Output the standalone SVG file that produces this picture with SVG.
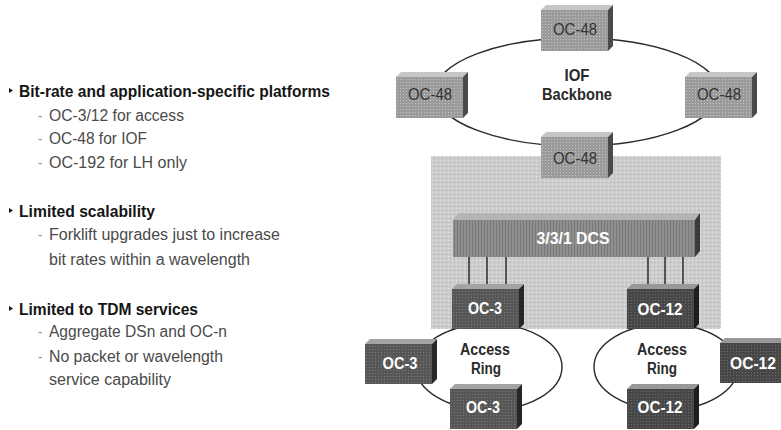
<svg xmlns="http://www.w3.org/2000/svg" xmlns:xlink="http://www.w3.org/1999/xlink" width="781" height="430" viewBox="0 0 781 430">
<style>
  .h { font-family: "Liberation Sans", Arial, sans-serif; font-weight: bold; font-size: 17px; fill: #151515; }
  .s { font-family: "Liberation Sans", Arial, sans-serif; font-size: 16px; fill: #4a4a4a; }
  .dash { font-family: "Liberation Sans", Arial, sans-serif; font-size: 13px; fill: #888; }
  .bul { fill: #151515; }
  .lg { font-family: "Liberation Sans", Arial, sans-serif; font-size: 17px; fill: #333; text-anchor: middle; }
  .lw { font-family: "Liberation Sans", Arial, sans-serif; font-weight: bold; font-size: 17px; fill: #fff; text-anchor: middle; }
  .lb { font-family: "Liberation Sans", Arial, sans-serif; font-weight: bold; font-size: 17px; fill: #2a2a2a; text-anchor: middle; }
  .ar { font-family: "Liberation Sans", Arial, sans-serif; font-weight: bold; font-size: 16px; fill: #2a2a2a; text-anchor: middle; }
  .ring { fill: none; stroke: #2a2a2a; stroke-width: 1.4; }
  .tie { stroke: #222; stroke-width: 1.4; }
</style>
<defs>
  <pattern id="dotsL" width="3" height="3" patternUnits="userSpaceOnUse">
    <rect width="3" height="3" fill="#9b9b9b"/>
    <rect x="1" y="1" width="1" height="1" fill="#c4c4c4"/>
  </pattern>
  <pattern id="dotsD" width="3" height="3" patternUnits="userSpaceOnUse">
    <rect width="3" height="3" fill="#565656"/>
    <rect x="1" y="1" width="1" height="1" fill="#7a7a7a"/>
  </pattern>
  <pattern id="dotsX" width="3" height="3" patternUnits="userSpaceOnUse">
    <rect width="3" height="3" fill="#474747"/>
    <rect x="1" y="1" width="1" height="1" fill="#6c6c6c"/>
  </pattern>
  <pattern id="shade" width="4" height="4" patternUnits="userSpaceOnUse">
    <rect width="4" height="4" fill="#cdcdcd"/>
    <rect x="0" y="0" width="1" height="1" fill="#e6e6e6"/>
    <rect x="2" y="2" width="1" height="1" fill="#b0b0b0"/>
  </pattern>
  <pattern id="stripe" width="3" height="4" patternUnits="userSpaceOnUse">
    <rect width="3" height="4" fill="#8e8e8e"/>
    <rect x="1" width="1" height="4" fill="#7a7a7a"/>
  </pattern>
  <g id="boxL">
    <polygon points="0,5 5,0 72,0 67,5" fill="#c6c6c6"/>
    <rect x="0" y="5" width="67" height="41" fill="url(#dotsL)"/>
    <polygon points="67,5 72,0 72,41 67,46" fill="#4a4a4a"/>
  </g>
  <g id="boxD">
    <polygon points="0,5 5,0 72,0 67,5" fill="#a4a4a4"/>
    <rect x="0" y="5" width="67" height="40" fill="url(#dotsD)"/>
    <polygon points="67,5 72,0 72,40 67,45" fill="#262626"/>
  </g>
  <g id="boxX">
    <polygon points="0,5 5,0 72,0 67,5" fill="#989898"/>
    <rect x="0" y="5" width="67" height="40" fill="url(#dotsX)"/>
    <polygon points="67,5 72,0 72,40 67,45" fill="#1e1e1e"/>
  </g>
</defs>
<rect width="781" height="430" fill="#fff"/>

<g id="bullets">
  <polygon class="bul" points="9,88 13,90.5 9,93"/>
  <text class="h" x="19" y="97" textLength="311" lengthAdjust="spacingAndGlyphs">Bit-rate and application-specific platforms</text>
  <text class="dash" x="38" y="120">-</text>
  <text class="s" x="49" y="121" textLength="135" lengthAdjust="spacingAndGlyphs">OC-3/12 for access</text>
  <text class="dash" x="38" y="143">-</text>
  <text class="s" x="49" y="144" textLength="98" lengthAdjust="spacingAndGlyphs">OC-48 for IOF</text>
  <text class="dash" x="38" y="167">-</text>
  <text class="s" x="49" y="168" textLength="138" lengthAdjust="spacingAndGlyphs">OC-192 for LH only</text>

  <polygon class="bul" points="9,208 13,210.5 9,213"/>
  <text class="h" x="19" y="217" textLength="136" lengthAdjust="spacingAndGlyphs">Limited scalability</text>
  <text class="dash" x="38" y="239">-</text>
  <text class="s" x="49" y="240" textLength="231" lengthAdjust="spacingAndGlyphs">Forklift upgrades just to increase</text>
  <text class="s" x="49" y="265" textLength="201" lengthAdjust="spacingAndGlyphs">bit rates within a wavelength</text>

  <polygon class="bul" points="9,306 13,308.5 9,311"/>
  <text class="h" x="19" y="315" textLength="179" lengthAdjust="spacingAndGlyphs">Limited to TDM services</text>
  <text class="dash" x="38" y="336">-</text>
  <text class="s" x="49" y="337" textLength="178" lengthAdjust="spacingAndGlyphs">Aggregate DSn and OC-n</text>
  <text class="dash" x="38" y="361">-</text>
  <text class="s" x="49" y="362" textLength="174" lengthAdjust="spacingAndGlyphs">No packet or wavelength</text>
  <text class="s" x="49" y="385" textLength="122" lengthAdjust="spacingAndGlyphs">service capability</text>
</g>

<g id="office">
  <rect x="431" y="156" width="290" height="173" fill="url(#shade)"/>
</g>

<g id="connectors">
  <ellipse class="ring" cx="577" cy="92" rx="142" ry="54"/>
  <ellipse class="ring" cx="489" cy="367" rx="73" ry="43"/>
  <ellipse class="ring" cx="666" cy="367" rx="72" ry="43"/>
  <line class="tie" x1="469" y1="257" x2="469" y2="286"/>
  <line class="tie" x1="487" y1="257" x2="487" y2="286"/>
  <line class="tie" x1="506" y1="257" x2="506" y2="286"/>
  <line class="tie" x1="648" y1="257" x2="648" y2="286"/>
  <line class="tie" x1="665" y1="257" x2="665" y2="286"/>
  <line class="tie" x1="683" y1="257" x2="683" y2="286"/>
</g>

<g id="iof-label">
  <text class="lb" x="577" y="81" textLength="25" lengthAdjust="spacingAndGlyphs">IOF</text>
  <text class="lb" x="577" y="100" textLength="70" lengthAdjust="spacingAndGlyphs">Backbone</text>
</g>

<g id="oc48-top" transform="translate(541,5)">
  <use xlink:href="#boxL"/>
  <text class="lg" x="34" y="30" textLength="44" lengthAdjust="spacingAndGlyphs">OC-48</text>
</g>
<g id="oc48-left" transform="translate(396,72)">
  <use xlink:href="#boxL"/>
  <text class="lg" x="34" y="28" textLength="44" lengthAdjust="spacingAndGlyphs">OC-48</text>
</g>
<g id="oc48-right" transform="translate(685,72)">
  <use xlink:href="#boxL"/>
  <text class="lg" x="34" y="28" textLength="44" lengthAdjust="spacingAndGlyphs">OC-48</text>
</g>
<g id="oc48-bottom" transform="translate(541,132)">
  <use xlink:href="#boxL"/>
  <text class="lg" x="34" y="32" textLength="44" lengthAdjust="spacingAndGlyphs">OC-48</text>
</g>

<g id="dcs">
  <polygon points="453,220 458,213 700,213 695,220" fill="#b4b4b4"/>
  <rect x="453" y="220" width="242" height="37" fill="url(#stripe)"/>
  <polygon points="695,220 700,213 700,251 695,257" fill="#3a3a3a"/>
  <text class="lw" x="573" y="244" textLength="73" lengthAdjust="spacingAndGlyphs">3/3/1 DCS</text>
</g>

<g id="oc3-top" transform="translate(452,284)">
  <use xlink:href="#boxD"/>
  <text class="lw" x="33" y="30" textLength="34" lengthAdjust="spacingAndGlyphs">OC-3</text>
</g>
<g id="oc12-top" transform="translate(627,284)">
  <use xlink:href="#boxX"/>
  <text class="lw" x="33" y="31" textLength="45" lengthAdjust="spacingAndGlyphs">OC-12</text>
</g>

<g id="access-left-label">
  <text class="ar" x="485" y="355" textLength="50" lengthAdjust="spacingAndGlyphs">Access</text>
  <text class="ar" x="486" y="374" textLength="30" lengthAdjust="spacingAndGlyphs">Ring</text>
</g>
<g id="access-right-label">
  <text class="ar" x="662" y="355" textLength="50" lengthAdjust="spacingAndGlyphs">Access</text>
  <text class="ar" x="662" y="374" textLength="30" lengthAdjust="spacingAndGlyphs">Ring</text>
</g>

<g id="oc3-left" transform="translate(365,339)">
  <use xlink:href="#boxD"/>
  <text class="lw" x="35" y="30" textLength="35" lengthAdjust="spacingAndGlyphs">OC-3</text>
</g>
<g id="oc3-bottom" transform="translate(450,384)">
  <use xlink:href="#boxD"/>
  <text class="lw" x="33" y="29" textLength="34" lengthAdjust="spacingAndGlyphs">OC-3</text>
</g>
<g id="oc12-right" transform="translate(720,338)">
  <use xlink:href="#boxX"/>
  <text class="lw" x="33" y="31" textLength="46" lengthAdjust="spacingAndGlyphs">OC-12</text>
</g>
<g id="oc12-bottom" transform="translate(627,384)">
  <use xlink:href="#boxX"/>
  <text class="lw" x="33" y="29" textLength="45" lengthAdjust="spacingAndGlyphs">OC-12</text>
</g>
</svg>
